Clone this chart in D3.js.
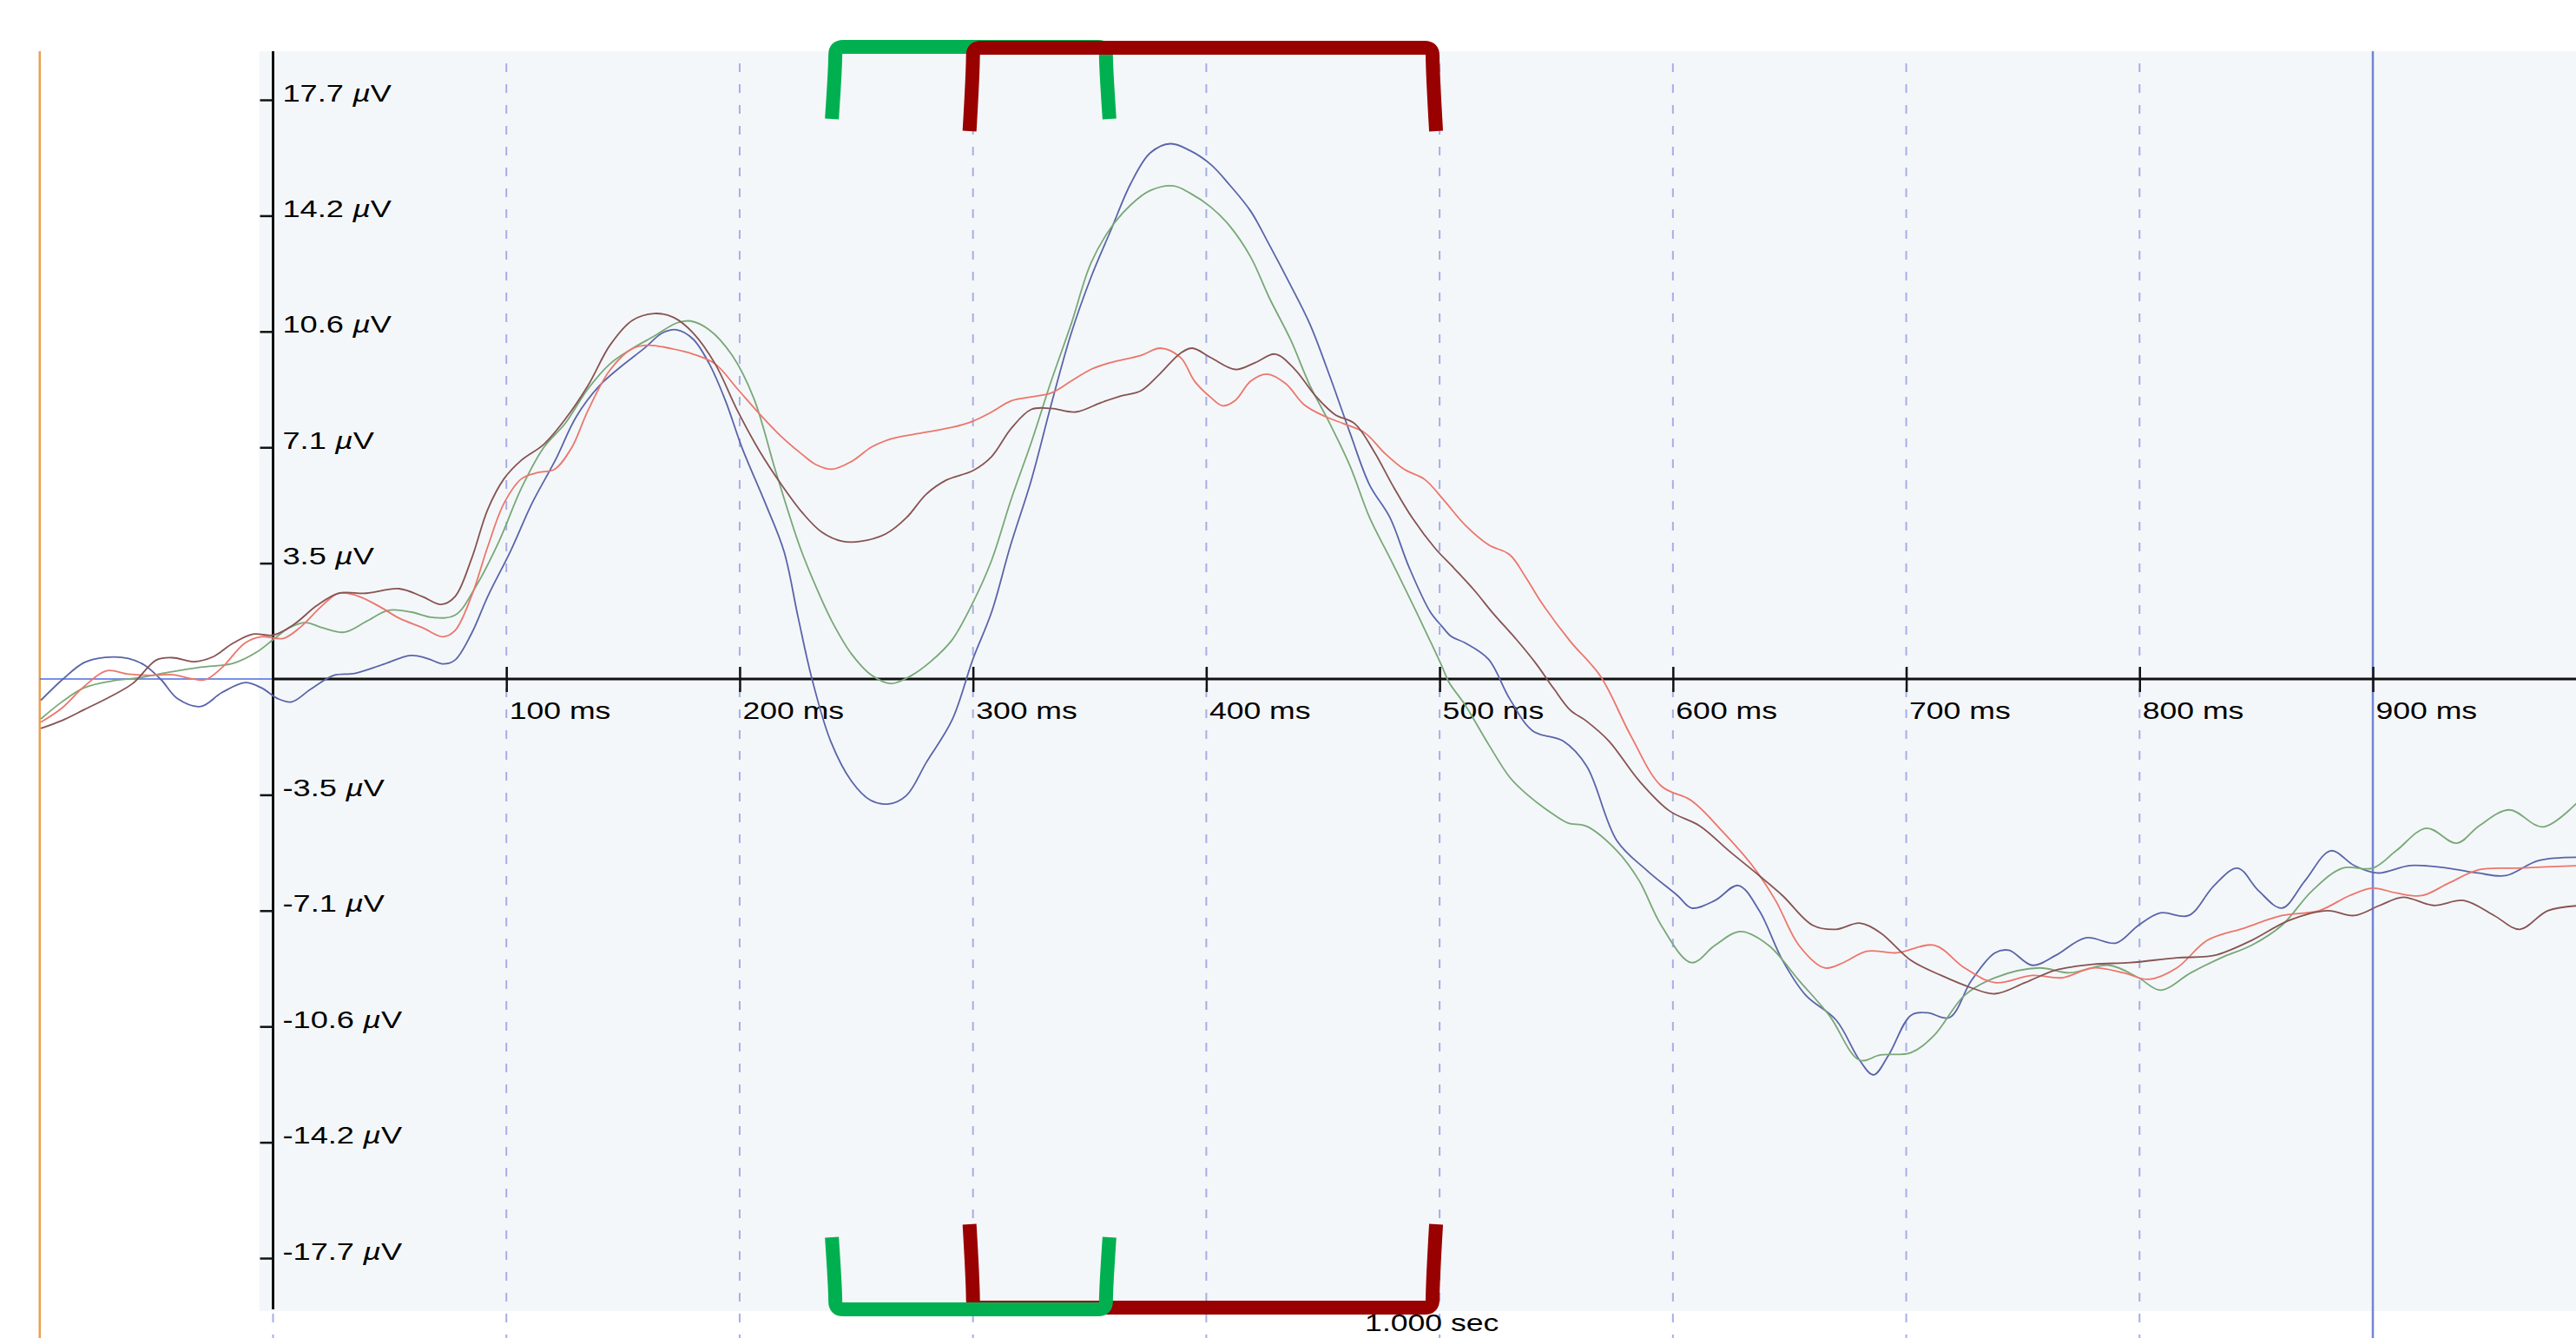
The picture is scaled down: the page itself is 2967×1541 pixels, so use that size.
<!DOCTYPE html>
<html>
<head>
<meta charset="utf-8">
<script src="https://cdn.jsdelivr.net/npm/d3@7"></script>
<style>
  body { margin: 0; background: #ffffff; }
  svg { display: block; }
  text { font-family: "Liberation Sans", Arial, Helvetica, sans-serif; }
</style>
</head>
<body>
<svg id="chart" width="2967" height="1541"></svg>
<script>
// ---- data -------------------------------------------------------------
// time ticks along the zero line (ms)
const timeTicks = [100, 200, 300, 400, 500, 600, 700, 800, 900];
// dashed gridline times (ms)
const gridTimes = [0, 100, 200, 300, 400, 500, 600, 700, 800];
// cursor position (ms)
const cursorTime = 900;
// start of the pre-stimulus baseline (ms)
const baselineStart = -100;
// amplitude ticks (µV)
const voltTicks = [-17.7, -14.16, -10.62, -7.08, -3.54, 3.54, 7.08, 10.62, 14.16, 17.7];
// analysis windows (ms)
const greenWindow = [241, 357];
const redWindow = [300, 497];
const durationLabel = "1.000 sec";

// averaged waveforms: [time ms, amplitude µV]
const blueTrace = [
  [-99.5,-0.65],[-90,0.0],[-81,0.5],[-72,0.66],[-62,0.63],[-55,0.42],[-48,-0.02],[-41,-0.6],
  [-31,-0.84],[-22,-0.42],[-12,-0.11],[-5,-0.27],[2,-0.6],[8,-0.7],[16,-0.32],[26,0.11],
  [35,0.17],[47,0.44],[59,0.72],[66,0.63],[73,0.46],[78,0.58],[85,1.38],[92,2.52],[102,3.94],
  [111,5.37],[121,6.69],[130,8.02],[140,8.97],[149,9.54],[159,10.1],[167,10.58],[173,10.67],
  [180,10.39],[187,9.63],[194,8.49],[201,7.07],[211,5.37],[219,3.9],[225,1.9],[231,0.0],
  [239,-1.9],[248,-3.13],[256,-3.7],[264,-3.82],[271.5,-3.56],[280,-2.55],[291,-1.26],
  [300,0.61],[308,2.05],[316,4.06],[325,6.08],[333.5,8.38],[342,10.54],[350.5,12.26],
  [359,13.7],[367.6,15.14],[376,16.08],[384.7,16.36],[393,16.15],[402,15.72],[410,15.1],
  [419,14.3],[427,13.27],[436,12.05],[444.5,10.83],[453,9.24],[461.6,7.52],[470,5.93],
  [478.6,4.95],[487,3.4],[496,2.05],[501,1.61],[505,1.3],[511,1.1],[521,0.6],[530,-0.6],
  [540,-1.59],[553,-1.9],[563,-2.66],[576,-4.94],[589,-5.86],[602,-6.62],[608,-7.0],
  [618,-6.77],[628,-6.31],[637,-7.08],[647,-8.6],[657,-9.67],[670,-10.43],[680,-11.65],
  [686,-12.1],[692.5,-11.49],[702,-10.28],[709,-10.2],[718.5,-10.35],[728,-9.21],[738,-8.37],
  [744,-8.29],[754,-8.75],[764,-8.45],[777,-7.91],[790,-8.07],[799.5,-7.53],[809,-7.15],
  [821,-7.23],[832,-6.31],[842,-5.78],[851,-6.47],[861,-7.0],[871,-6.16],[882,-5.25],
  [892,-5.7],[902,-5.93],[916,-5.7],[932,-5.78],[945,-5.93],[957,-6.01],[971,-5.55],[990,-5.45]
];
const greenTrace = [
  [-99.5,-1.22],[-90.5,-0.7],[-81,-0.27],[-69,-0.06],[-57,0.04],[-45,0.2],[-31,0.36],[-17,0.48],
  [-7,0.82],[0,1.2],[7,1.57],[14,1.72],[21,1.57],[30.5,1.43],[40,1.76],[49.5,2.1],[59,2.05],
  [68.5,1.88],[78,1.95],[87.5,2.9],[97,4.23],[106.5,5.84],[116,7.07],[125.4,7.83],[135,8.87],
  [144.4,9.63],[154,10.1],[163.4,10.48],[173,10.88],[179,10.94],[187,10.67],[196.6,9.91],
  [206,8.59],[215.6,6.31],[226,4.0],[233,2.77],[239.5,1.77],[248,0.76],[256.6,0.11],
  [265,-0.14],[273.7,0.11],[282,0.54],[291,1.19],[300,2.34],[308,3.63],[316.4,5.5],[325,7.23],
  [333.5,9.1],[342,10.83],[350.5,12.7],[359,13.78],[367.6,14.49],[376,14.93],[386,15.07],
  [393,14.85],[402,14.42],[410,13.85],[419,12.9],[427,11.65],[436,10.39],[444.5,8.96],
  [453,7.8],[461.6,6.51],[470,4.93],[478.7,3.7],[487,2.5],[495.7,1.2],[501,0.39],[504,-0.1],
  [511,-0.8],[521,-2.0],[530,-3.0],[537,-3.5],[548,-4.1],[555,-4.4],[563,-4.5],[576,-5.25],
  [585.5,-6.16],[595,-7.53],[608,-8.67],[618,-8.14],[629,-7.72],[641,-8.14],[654,-9.21],
  [667,-10.28],[680,-11.65],[689,-11.49],[702,-11.42],[712,-10.89],[725,-9.67],[738,-9.13],
  [757,-8.83],[770,-8.98],[787,-8.75],[799.5,-9.13],[809,-9.51],[822,-8.98],[835,-8.52],
  [848,-8.14],[861,-7.53],[874,-6.47],[887,-5.78],[900,-5.78],[910,-5.25],[923,-4.56],
  [936,-5.02],[945.5,-4.49],[958.5,-4.0],[973,-4.52],[990,-3.6]
];
const redTrace = [
  [-99.5,-1.32],[-90.5,-0.89],[-81,-0.23],[-71.5,0.25],[-62,0.15],[-52.5,0.11],[-43,0.13],
  [-35,0.01],[-29,-0.02],[-22,0.34],[-12,1.1],[-5,1.29],[4.4,1.24],[11.5,1.57],[21,2.24],
  [28,2.62],[35,2.57],[45,2.24],[54,1.86],[64,1.57],[73,1.29],[78,1.48],[85,2.52],[92,4.04],
  [99,5.37],[106.5,6.12],[113.6,6.31],[120.7,6.41],[128,7.07],[135,8.21],[144.4,9.44],
  [154,10.1],[161,10.2],[170.5,10.1],[180,9.93],[189.5,9.63],[199,8.87],[208.4,8.11],
  [218,7.4],[227,6.85],[233,6.54],[239.5,6.41],[248,6.65],[256.6,7.09],[265,7.34],[278,7.52],
  [291,7.69],[300,7.88],[308,8.16],[316.4,8.5],[325,8.62],[333.5,8.74],[342,9.1],[350.5,9.46],
  [359,9.67],[372,9.89],[380.4,10.11],[389,9.82],[395,9.1],[402,8.6],[407,8.35],[412.5,8.52],
  [419,9.1],[426,9.32],[434,9.03],[442,8.38],[451,8.02],[459,7.8],[468,7.52],[476.5,6.9],
  [485,6.4],[493.6,6.1],[502,5.45],[511,4.7],[521,4.1],[530,3.8],[537,3.1],[544,2.3],
  [556,1.15],[569,0.08],[582,-1.74],[595,-3.27],[608,-3.72],[621,-4.64],[634,-5.7],
  [644,-6.77],[654,-8.14],[665,-8.83],[673,-8.67],[683,-8.32],[696,-8.37],[712,-8.14],
  [725,-8.83],[738,-9.28],[754,-9.06],[767,-9.13],[780,-8.83],[793,-8.98],[804,-9.18],
  [816,-8.83],[829,-7.99],[845,-7.61],[861,-7.23],[877,-7.08],[890,-6.62],[900,-6.39],
  [910,-6.54],[921,-6.62],[932.5,-6.24],[945.5,-5.83],[962,-5.78],[990,-5.7]
];
const brownTrace = [
  [-99.5,-1.51],[-90.5,-1.27],[-81,-0.94],[-69,-0.51],[-60,-0.13],[-50,0.58],[-43,0.65],
  [-34,0.53],[-26,0.67],[-17,1.1],[-8.6,1.37],[0,1.34],[9,1.67],[18.7,2.24],[28,2.62],
  [40,2.62],[54,2.76],[64,2.52],[72,2.28],[78,2.52],[85,3.66],[92,5.18],[99,6.12],[106.5,6.69],
  [116,7.17],[125,7.92],[135,8.97],[144.4,10.2],[154,10.96],[163.4,11.17],[171.7,11.05],
  [180,10.58],[189.5,9.63],[199,8.21],[208.4,6.98],[218,5.93],[227,5.07],[235,4.5],[244,4.21],
  [252,4.21],[263,4.45],[271.5,4.93],[280,5.65],[288.6,6.08],[300,6.37],[308,6.8],[316.4,7.66],
  [325,8.24],[333.5,8.27],[344,8.16],[355,8.45],[363,8.64],[372,8.81],[380,9.32],[389,9.96],
  [394,10.11],[402,9.82],[412.5,9.46],[421,9.67],[429.5,9.93],[438,9.46],[446.6,8.67],
  [455,8.09],[463.7,7.8],[472,6.94],[480,5.9],[488.5,4.9],[498,4.0],[506,3.4],[515,2.7],
  [523,2.0],[533,1.2],[541,0.5],[549,-0.3],[556,-0.95],[563,-1.29],[572.6,-1.9],[585.5,-3.11],
  [598.5,-4.03],[611.5,-4.49],[624,-5.25],[637,-6.01],[647,-6.62],[660,-7.53],[670,-7.65],
  [680,-7.46],[689,-7.76],[702,-8.6],[715,-9.06],[728,-9.44],[738,-9.62],[751,-9.28],
  [764,-8.9],[780,-8.72],[796,-8.67],[816,-8.52],[832,-8.45],[848,-7.99],[864,-7.38],
  [880.6,-7.08],[892,-7.23],[903,-6.92],[913,-6.67],[926,-6.92],[939,-6.77],[952,-7.23],
  [963,-7.65],[975,-7.08],[990,-6.92]
];

// ---- layout -----------------------------------------------------------
const W = 2967, H = 1541;
const plotTop = 59, plotBottom = 1510;
const textStretch = 1.27;

const svg = d3.select("#chart");
const x = d3.scaleLinear().domain([0, 900]).range([314.5, 2733]);
const y = d3.scaleLinear().domain([-17.7, 17.7]).range([1449, 115]);
const x0 = x(0), y0 = y(0);

// plot background
svg.append("rect")
  .attr("x", x0 - 16).attr("y", plotTop)
  .attr("width", W - (x0 - 16)).attr("height", plotBottom - plotTop)
  .attr("fill", "#f4f7f9");

// baseline-start marker
svg.append("line")
  .attr("x1", x(baselineStart)).attr("x2", x(baselineStart))
  .attr("y1", plotTop).attr("y2", H)
  .attr("stroke", "#e8a04e").attr("stroke-width", 2.5);

// dashed time gridlines
svg.append("g").selectAll("line").data(gridTimes).join("line")
  .attr("x1", d => x(d)).attr("x2", d => x(d))
  .attr("y1", plotTop + 14).attr("y2", H)
  .attr("stroke", "#a7aee6").attr("stroke-width", 2)
  .attr("stroke-dasharray", "10 14");

// cursor
svg.append("line")
  .attr("x1", x(cursorTime)).attr("x2", x(cursorTime))
  .attr("y1", plotTop).attr("y2", H)
  .attr("stroke", "#7084d6").attr("stroke-width", 2.5);

// zero lines
svg.append("line")
  .attr("x1", x(baselineStart)).attr("x2", x0)
  .attr("y1", y0).attr("y2", y0)
  .attr("stroke", "#4d6ae0").attr("stroke-width", 1.5);
svg.append("line")
  .attr("x1", x0).attr("x2", W)
  .attr("y1", y0).attr("y2", y0)
  .attr("stroke", "#111").attr("stroke-width", 3);

// amplitude axis
svg.append("line")
  .attr("x1", x0).attr("x2", x0)
  .attr("y1", plotTop).attr("y2", plotBottom - 2)
  .attr("stroke", "#111").attr("stroke-width", 3);

const yAxis = d3.axisLeft(y)
  .tickValues(voltTicks)
  .tickSize(15)
  .tickSizeOuter(0)
  .tickFormat(v => (Math.round(v * 10) / 10).toFixed(1));
const gy = svg.append("g").attr("transform", `translate(${x0},0)`).call(yAxis);
gy.attr("font-size", null).attr("font-family", null);
gy.select(".domain").remove();
gy.selectAll(".tick line").attr("stroke", "#111").attr("stroke-width", 2.5);
gy.selectAll(".tick text").each(function () {
  const t = d3.select(this);
  const label = t.text();
  t.text(null)
    .attr("x", null).attr("dy", null)
    .attr("text-anchor", "start")
    .attr("fill", "#000")
    .attr("font-size", 28.5)
    .attr("transform", `translate(11,1) scale(${textStretch},1)`);
  t.append("tspan").text(label + " ");
  t.append("tspan").attr("font-style", "italic").text("µ");
  t.append("tspan").text("V");
});

// time axis
const xAxis = d3.axisBottom(x)
  .tickValues(timeTicks)
  .tickSize(15)
  .tickSizeOuter(0)
  .tickFormat(d => `${d} ms`);
const gx = svg.append("g").attr("transform", `translate(0,${y0})`).call(xAxis);
gx.attr("font-size", null).attr("font-family", null);
gx.select(".domain").remove();
gx.selectAll(".tick line")
  .attr("y1", -14).attr("y2", 15)
  .attr("stroke", "#111").attr("stroke-width", 2.5);
gx.selectAll(".tick text")
  .attr("y", null).attr("dy", null)
  .attr("text-anchor", "start")
  .attr("fill", "#000")
  .attr("font-size", 28)
  .attr("transform", `translate(3,46) scale(${textStretch},1)`);

// waveforms
const line = d3.line()
  .x(d => x(d[0]))
  .y(d => y(d[1]))
  .curve(d3.curveCatmullRom.alpha(0.5));
const traces = [
  { data: blueTrace, color: "#5a64aa" },
  { data: greenTrace, color: "#78a878" },
  { data: redTrace, color: "#ec766c" },
  { data: brownTrace, color: "#875353" }
];
svg.append("g").selectAll("path").data(traces).join("path")
  .attr("d", d => line(d.data))
  .attr("fill", "none")
  .attr("stroke", d => d.color)
  .attr("stroke-width", 1.8)
  .attr("stroke-linejoin", "round");

// window brackets
function bracketPath(t1, t2, yBar, yEnd) {
  const x1 = x(t1), x2 = x(t2);
  const d = Math.sign(yEnd - yBar);
  const r = 9, s = 4, ym = (yBar + yEnd) / 2;
  return `M${x1 - s},${yEnd} C${x1 - s * 0.3},${ym} ${x1},${yBar + d * r * 2} ${x1},${yBar + d * r}` +
    ` Q${x1},${yBar} ${x1 + r},${yBar} L${x2 - r},${yBar} Q${x2},${yBar} ${x2},${yBar + d * r}` +
    ` C${x2},${yBar + d * r * 2} ${x2 + s * 0.3},${ym} ${x2 + s},${yEnd}`;
}
const brackets = [
  { win: greenWindow, yBar: 54, yEnd: 137, color: "#00b050" },
  { win: redWindow, yBar: 55, yEnd: 151, color: "#990000" },
  { win: redWindow, yBar: 1506, yEnd: 1410, color: "#990000" },
  { win: greenWindow, yBar: 1508, yEnd: 1425, color: "#00b050" }
];
svg.append("g").selectAll("path").data(brackets).join("path")
  .attr("d", d => bracketPath(d.win[0], d.win[1], d.yBar, d.yEnd))
  .attr("fill", "none")
  .attr("stroke", d => d.color)
  .attr("stroke-width", 16)
  .attr("stroke-linecap", "butt")
  .attr("stroke-linejoin", "round");

// duration label
svg.append("text")
  .attr("text-anchor", "start")
  .attr("font-size", 28)
  .attr("fill", "#000")
  .attr("transform", `translate(${x(500) - 86},1533) scale(${textStretch},1)`)
  .text(durationLabel);
</script>
</body>
</html>
